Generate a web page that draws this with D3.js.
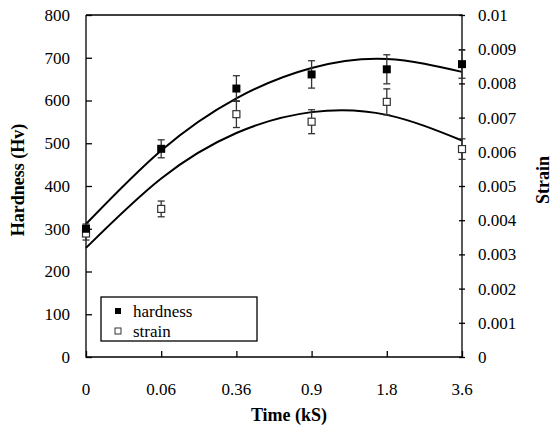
<!DOCTYPE html>
<html>
<head>
  <script type="text/javascript" src="https://d3js.org/d3.v7.min.js"></script>
</head>
<body>
<style type="text/css">
  html,
  body,
  svg {
    overflow: hidden;
    margin: 0px;
    width: 100%;
    height: 100%;
    background: #fff;
  }
  svg text {
    font-family: "Liberation Serif", "Times New Roman", serif;
  }
</style>

<script>
"use strict";

// Data
const TIMES = ["0", "0.06", "0.36", "0.9", "1.8", "3.6"]; // x categories (kS)
const HARDNESS = [300, 487, 628, 661, 673, 685]; // Hv
const HARDNESS_ERR = [11, 21, 30, 32, 34, 33];
const STRAIN = [0.00361, 0.00433, 0.0071, 0.00688, 0.00746, 0.00608];
const STRAIN_ERR = [0.00019, 0.00023, 0.00039, 0.00035, 0.00038, 0.0003];
const HARDNESS_TREND = [311, 483, 605, 676, 697, 667]; // polynomial trend line read at each category
const STRAIN_TREND = [0.00319, 0.00522, 0.00655, 0.00716, 0.00708, 0.00633];
const LEFT_TICKS = [0, 100, 200, 300, 400, 500, 600, 700, 800];
const RIGHT_TICKS = [0, 0.001, 0.002, 0.003, 0.004, 0.005, 0.006, 0.007, 0.008, 0.009, 0.01];
const RIGHT_TICK_LABELS = ["0", "0.001", "0.002", "0.003", "0.004", "0.005", "0.006", "0.007", "0.008", "0.009", "0.01"];

document.addEventListener("DOMContentLoaded", function() {
  const WIDTH = 552;
  const HEIGHT = 430;
  const LEFT = 86; // plot edges
  const RIGHT = 462;
  const TOP = 15;
  const BOTTOM = 357;
  const FONT_SIZE = 17; // tick labels
  const TITLE_SIZE = 18;

  const SVG = d3.select("body").append("svg")
    .attr("width", WIDTH)
    .attr("height", HEIGHT);

  const X_SCALE = d3.scalePoint().domain(TIMES).range([LEFT, RIGHT]).padding(0);
  const Y_LEFT = d3.scaleLinear().domain([0, 800]).range([BOTTOM, TOP]);
  const Y_RIGHT = d3.scaleLinear().domain([0, 0.01]).range([BOTTOM, TOP]);

  // Left axis, ticks pointing inward
  const leftAxis = SVG.append("g")
    .attr("transform", "translate(" + LEFT + ",0)")
    .call(d3.axisRight(Y_LEFT).tickValues(LEFT_TICKS).tickSize(6).tickFormat(""));
  leftAxis.select(".domain").remove();
  leftAxis.selectAll("line").attr("stroke", "#000").attr("stroke-width", 1.3);

  SVG.append("g").selectAll("text")
    .data(LEFT_TICKS)
    .enter()
    .append("text")
    .attr("x", 70)
    .attr("y", function(d) { return Y_LEFT(d); })
    .attr("dy", "0.35em")
    .attr("text-anchor", "end")
    .attr("font-size", FONT_SIZE)
    .text(function(d) { return d; });

  // Right axis, ticks crossing the line
  const rightAxis = SVG.append("g")
    .attr("transform", "translate(" + (RIGHT - 3) + ",0)")
    .call(d3.axisRight(Y_RIGHT).tickValues(RIGHT_TICKS).tickSize(6).tickFormat(""));
  rightAxis.select(".domain").remove();
  rightAxis.selectAll("line").attr("stroke", "#000").attr("stroke-width", 1.3);

  SVG.append("g").selectAll("text")
    .data(RIGHT_TICKS)
    .enter()
    .append("text")
    .attr("x", 478)
    .attr("y", function(d) { return Y_RIGHT(d); })
    .attr("dy", "0.35em")
    .attr("font-size", FONT_SIZE)
    .text(function(d, i) { return RIGHT_TICK_LABELS[i]; });

  // Bottom axis, ticks pointing up into the plot
  const bottomAxis = SVG.append("g")
    .attr("transform", "translate(0," + BOTTOM + ")")
    .call(d3.axisTop(X_SCALE).tickSize(6).tickFormat(""));
  bottomAxis.select(".domain").remove();
  bottomAxis.selectAll("line").attr("stroke", "#000").attr("stroke-width", 1.3);

  SVG.append("g").selectAll("text")
    .data(TIMES)
    .enter()
    .append("text")
    .attr("x", function(d) { return X_SCALE(d); })
    .attr("y", 395)
    .attr("text-anchor", "middle")
    .attr("font-size", FONT_SIZE)
    .text(function(d) { return d; });

  // Frame
  SVG.append("path")
    .attr("d", "M" + LEFT + "," + TOP + "V" + BOTTOM + "H" + RIGHT + "V" + TOP + "H" + LEFT)
    .attr("fill", "none")
    .attr("stroke", "#000")
    .attr("stroke-width", 1.3);

  // Axis titles
  SVG.append("text")
    .attr("x", 289)
    .attr("y", 421)
    .attr("text-anchor", "middle")
    .attr("font-size", TITLE_SIZE)
    .attr("font-weight", "bold")
    .text("Time (kS)");

  SVG.append("text")
    .attr("transform", "translate(24,180) rotate(-90)")
    .attr("text-anchor", "middle")
    .attr("font-size", TITLE_SIZE)
    .attr("font-weight", "bold")
    .text("Hardness (Hv)");

  SVG.append("text")
    .attr("transform", "translate(549,180) rotate(-90)")
    .attr("text-anchor", "middle")
    .attr("font-size", TITLE_SIZE)
    .attr("font-weight", "bold")
    .text("Strain");

  // Trend lines
  const hardnessLine = d3.line()
    .x(function(d, i) { return X_SCALE(TIMES[i]); })
    .y(function(d) { return Y_LEFT(d); })
    .curve(d3.curveNatural);

  const strainLine = d3.line()
    .x(function(d, i) { return X_SCALE(TIMES[i]); })
    .y(function(d) { return Y_RIGHT(d); })
    .curve(d3.curveNatural);

  SVG.append("path")
    .datum(HARDNESS_TREND)
    .attr("d", hardnessLine)
    .attr("fill", "none")
    .attr("stroke", "#000")
    .attr("stroke-width", 2);

  SVG.append("path")
    .datum(STRAIN_TREND)
    .attr("d", strainLine)
    .attr("fill", "none")
    .attr("stroke", "#000")
    .attr("stroke-width", 2);

  // Error bars
  function drawErrors(values, errors, scale) {
    const g = SVG.append("g").attr("stroke", "#333").attr("stroke-width", 1.3);
    values.forEach(function(v, i) {
      const x = X_SCALE(TIMES[i]);
      const y0 = scale(v - errors[i]);
      const y1 = scale(v + errors[i]);
      g.append("line").attr("x1", x).attr("x2", x).attr("y1", y0).attr("y2", y1);
      g.append("line").attr("x1", x - 3.5).attr("x2", x + 3.5).attr("y1", y0).attr("y2", y0);
      g.append("line").attr("x1", x - 3.5).attr("x2", x + 3.5).attr("y1", y1).attr("y2", y1);
    });
  }

  drawErrors(STRAIN, STRAIN_ERR, Y_RIGHT);
  drawErrors(HARDNESS, HARDNESS_ERR, Y_LEFT);

  // Markers
  SVG.append("g").selectAll("rect")
    .data(STRAIN)
    .enter()
    .append("rect")
    .attr("x", function(d, i) { return X_SCALE(TIMES[i]) - 3.5; })
    .attr("y", function(d) { return Y_RIGHT(d) - 3.5; })
    .attr("width", 7)
    .attr("height", 7)
    .attr("fill", "#fff")
    .attr("stroke", "#333")
    .attr("stroke-width", 1.2);

  SVG.append("g").selectAll("rect")
    .data(HARDNESS)
    .enter()
    .append("rect")
    .attr("x", function(d, i) { return X_SCALE(TIMES[i]) - 4; })
    .attr("y", function(d) { return Y_LEFT(d) - 4; })
    .attr("width", 8)
    .attr("height", 8)
    .attr("fill", "#000");

  // Legend
  const legend = SVG.append("g");
  legend.append("rect")
    .attr("x", 101)
    .attr("y", 297)
    .attr("width", 156)
    .attr("height", 44)
    .attr("fill", "#fff")
    .attr("stroke", "#000")
    .attr("stroke-width", 1.3);
  legend.append("rect")
    .attr("x", 115)
    .attr("y", 308)
    .attr("width", 6)
    .attr("height", 6)
    .attr("fill", "#000");
  legend.append("rect")
    .attr("x", 115)
    .attr("y", 328)
    .attr("width", 6)
    .attr("height", 6)
    .attr("fill", "#fff")
    .attr("stroke", "#333")
    .attr("stroke-width", 1);
  legend.append("text")
    .attr("x", 133)
    .attr("y", 317)
    .attr("font-size", 17)
    .text("hardness");
  legend.append("text")
    .attr("x", 133)
    .attr("y", 337)
    .attr("font-size", 17)
    .text("strain");
});
</script>
</body>
</html>
